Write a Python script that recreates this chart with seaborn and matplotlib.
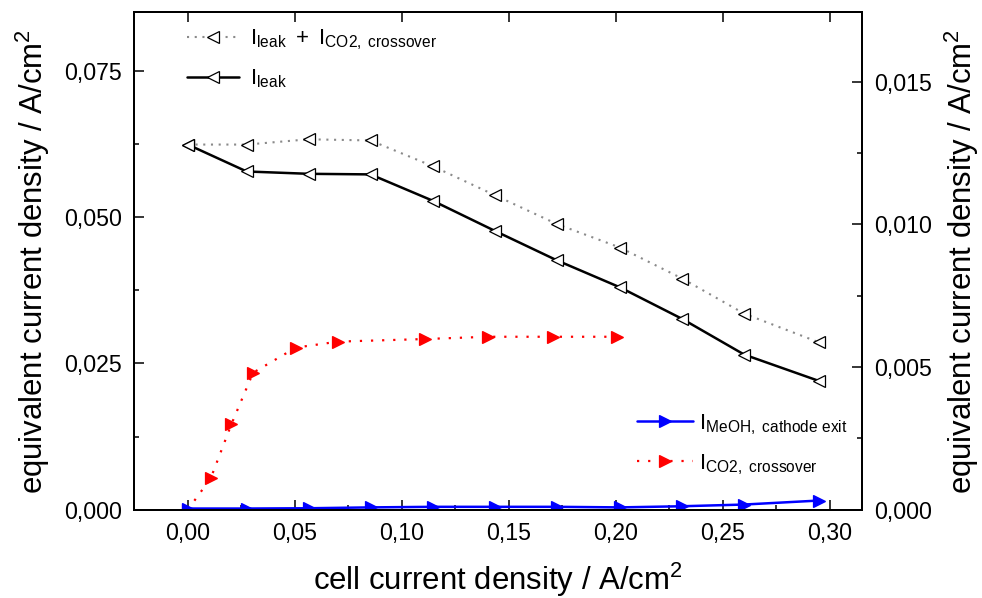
import matplotlib
matplotlib.use("Agg")
import matplotlib.pyplot as plt
import pandas as pd
import seaborn as sns
from matplotlib.ticker import MultipleLocator, FuncFormatter

# cell current density / A cm^-2 at the leak measurement points
cell_j = [0.000, 0.0275, 0.0565, 0.0854, 0.1145, 0.1438, 0.1726, 0.2020, 0.2311, 0.2601, 0.2950]
# I_leak + I_CO2,crossover (left axis)
leak_plus_co2 = [0.0624, 0.0624, 0.0633, 0.0631, 0.0587, 0.0537, 0.0488, 0.0448, 0.0395, 0.0335, 0.0286]
# I_leak (left axis)
leak = [0.0624, 0.0578, 0.0574, 0.0573, 0.0528, 0.0476, 0.0426, 0.0380, 0.0326, 0.0265, 0.0220]
# I_MeOH at cathode exit (right axis)
meoh_cathode = [0.00004, 0.00004, 0.00005, 0.00008, 0.00010, 0.00010, 0.00010, 0.00008, 0.00012, 0.00018, 0.00032]

# CO2 crossover series has its own current points (right axis)
co2_j = [0.000, 0.0107, 0.0204, 0.0305, 0.0505, 0.0703, 0.1107, 0.1404, 0.1705, 0.2004]
co2_crossover = [0.0, 0.0011, 0.0030, 0.0048, 0.00568, 0.00589, 0.00598, 0.00606, 0.00606, 0.00606]

left_ylim = (0.0, 0.085)
right_ylim = (0.0, 0.01743)
xlim = (-0.025, 0.315)

sns.set_theme(style="white")
plt.rcParams["font.family"] = ["Liberation Sans", "DejaVu Sans"]
plt.rcParams["mathtext.fontset"] = "custom"
plt.rcParams["mathtext.rm"] = "Liberation Sans"
plt.rcParams["mathtext.it"] = "Liberation Sans"
plt.rcParams["axes.edgecolor"] = "black"
plt.rcParams["axes.linewidth"] = 1.4
plt.rcParams["text.color"] = "black"
plt.rcParams["axes.labelcolor"] = "black"
plt.rcParams["xtick.color"] = "black"
plt.rcParams["ytick.color"] = "black"

fig = plt.figure(figsize=(9.82, 5.98), dpi=100)
ax = fig.add_axes([0.1368, 0.1477, 0.7407, 0.8317])
ax2 = ax.twinx()

df_leak = pd.DataFrame({"j": cell_j, "sum": leak_plus_co2, "leak": leak, "meoh": meoh_cathode})
df_co2 = pd.DataFrame({"j": co2_j, "co2": co2_crossover})

tri = dict(markersize=9, markeredgewidth=0.9)

sns.lineplot(data=df_leak, x="j", y="sum", ax=ax, color="#8a8a8a", lw=1.5,
             linestyle=(0, (1, 2.7)), marker="<", markerfacecolor="white",
             markeredgecolor="black", legend=False, errorbar=None,
             label=r"$\mathregular{I_{leak}\ +\ I_{CO2,\ crossover}}$", **tri)
sns.lineplot(data=df_leak, x="j", y="leak", ax=ax, color="black", lw=1.8,
             marker="<", markerfacecolor="white", markeredgecolor="black",
             legend=False, errorbar=None, label=r"$\mathregular{I_{leak}}$", **tri)

sns.lineplot(data=df_co2, x="j", y="co2", ax=ax2, color="red", lw=1.6,
             linestyle=(0, (1, 4)), marker=">", markerfacecolor="red",
             markeredgecolor="red", legend=False, errorbar=None,
             label=r"$\mathregular{I_{CO2,\ crossover}}$", **tri)
sns.lineplot(data=df_leak, x="j", y="meoh", ax=ax2, color="blue", lw=1.8,
             marker=">", markerfacecolor="blue", markeredgecolor="blue",
             legend=False, errorbar=None,
             label=r"$\mathregular{I_{MeOH,\ cathode\ exit}}$", **tri)

ax.set_xlim(*xlim)
ax.set_ylim(*left_ylim)
ax2.set_ylim(*right_ylim)

comma3 = FuncFormatter(lambda v, p: f"{v:.3f}".replace(".", ","))
comma2 = FuncFormatter(lambda v, p: f"{v:.2f}".replace(".", ","))
ax.xaxis.set_major_locator(MultipleLocator(0.05))
ax.xaxis.set_minor_locator(MultipleLocator(0.025))
ax.xaxis.set_major_formatter(comma2)
ax.yaxis.set_major_locator(MultipleLocator(0.025))
ax.yaxis.set_minor_locator(MultipleLocator(0.0125))
ax.yaxis.set_major_formatter(comma3)
ax2.yaxis.set_major_locator(MultipleLocator(0.005))
ax2.yaxis.set_minor_locator(MultipleLocator(0.0025))
ax2.yaxis.set_major_formatter(comma3)

for a in (ax, ax2):
    a.set_xlabel("")
    a.set_ylabel("")
    for s in a.spines.values():
        s.set_visible(True)
        s.set_color("black")
        s.set_linewidth(1.4)

ax.tick_params(axis="x", which="major", direction="in", length=7.4, width=1.1,
               labelsize=16.7, pad=9, top=True, bottom=True, colors="black")
ax.tick_params(axis="x", which="minor", direction="in", length=3.6, width=1.1,
               bottom=True, top=False)
ax.tick_params(axis="y", which="major", direction="in", length=7.4, width=1.1,
               labelsize=16.7, pad=9, left=True, right=False, colors="black")
ax.tick_params(axis="y", which="minor", direction="in", length=3.6, width=1.1,
               left=True, right=False)
ax2.tick_params(axis="y", which="major", direction="in", length=7.4, width=1.1,
                labelsize=16.7, pad=9, right=True, left=False, colors="black")
ax2.tick_params(axis="y", which="minor", direction="in", length=3.6, width=1.1,
                right=True, left=False)

ylab = r"equivalent current density / A/cm$^\mathregular{2}$"
fig.text(0.033, 0.5625, ylab, rotation=90, ha="center", va="center", fontsize=22.4)
fig.text(0.979, 0.5625, ylab, rotation=90, ha="center", va="center", fontsize=22.4)
fig.text(0.507, 0.030, r"cell current density / A/cm$^\mathregular{2}$",
         ha="center", va="center", fontsize=22.4)

h1 = ax.get_lines()[:2]
leg1 = ax.legend(handles=h1, loc="upper left", bbox_to_anchor=(0.0725, 0.969),
                 frameon=False, fontsize=16, handlelength=2.35, handletextpad=0.5,
                 labelspacing=0.68, borderpad=0, borderaxespad=0, numpoints=1)
h2 = [ax2.get_lines()[1], ax2.get_lines()[0]]
leg2 = ax2.legend(handles=h2, loc="upper left", bbox_to_anchor=(0.6907, 0.196),
                  frameon=False, fontsize=16, handlelength=2.55, handletextpad=0.25,
                  labelspacing=0.7, borderpad=0, borderaxespad=0, numpoints=1)

fig.savefig("out.png", dpi=100)
